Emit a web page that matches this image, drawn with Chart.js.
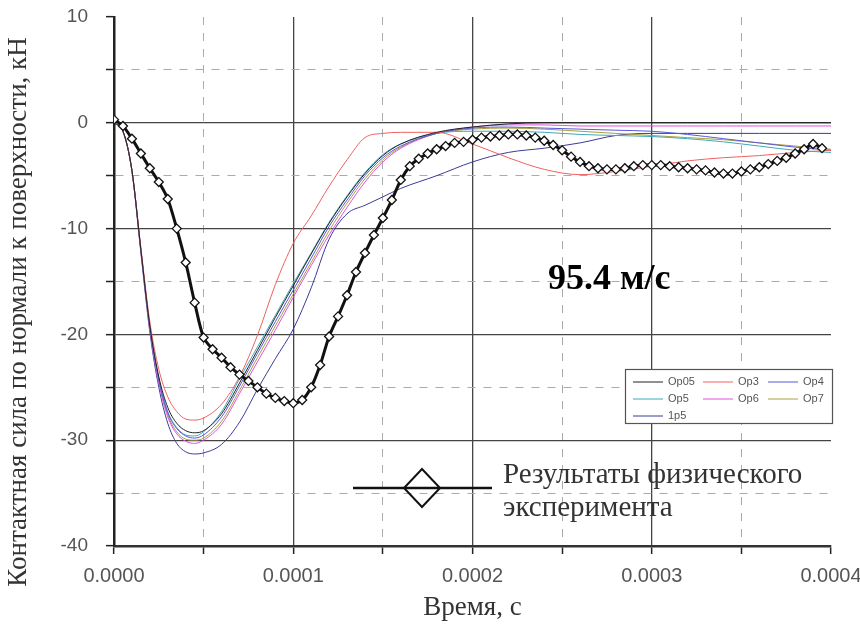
<!DOCTYPE html>
<html>
<head>
<meta charset="utf-8">
<script src="https://cdn.jsdelivr.net/npm/chart.js@4.4.0/dist/chart.umd.min.js"></script>
<style>
  html, body { margin: 0; padding: 0; background: #fff; }
  #wrap { width: 860px; height: 633px; }
</style>
</head>
<body>
<div id="wrap"><canvas id="chart"></canvas></div>
<script>
// time is kept in units of 1e-4 s, the tick callback turns it back into seconds
const simTime = [0, 0.05, 0.1, 0.15, 0.2, 0.25, 0.3, 0.35, 0.4, 0.45, 0.5, 0.6, 0.7, 0.8, 0.9, 1.0, 1.1, 1.2, 1.3, 1.4, 1.5, 1.6, 1.8, 2.0, 2.2, 2.4, 2.6, 2.8, 3.0, 3.2, 3.4, 3.6, 3.8, 4.0];

const op05 = [0, -0.8, -4.5, -12.0, -19.2, -24.0, -26.9, -28.4, -29.1, -29.3, -29.1, -27.5, -24.6, -21.5, -18.4, -15.4, -12.4, -9.5, -7.0, -4.8, -3.1, -2.0, -0.9, -0.4, -0.1, 0, 0, 0, 0, 0, 0, 0, 0, 0];
const op3 = [0, -0.8, -4.5, -11.8, -18.8, -23.3, -25.9, -27.3, -28.0, -28.1, -27.9, -26.6, -24.0, -20.1, -15.3, -11.4, -8.8, -6.0, -3.5, -1.4, -1.0, -0.9, -0.9, -2.0, -3.3, -4.4, -4.9, -4.6, -4.1, -3.6, -3.3, -3.1, -2.8, -2.6];
const op4 = [0, -0.8, -4.5, -12.0, -19.3, -24.3, -27.4, -28.9, -29.6, -29.8, -29.5, -27.8, -24.9, -21.8, -18.8, -15.8, -12.8, -9.8, -7.3, -5.0, -3.3, -2.2, -1.0, -0.5, -0.4, -0.5, -0.6, -0.7, -0.8, -1.1, -1.5, -1.9, -2.3, -2.6];
const op5 = [0, -0.8, -4.5, -12.0, -19.3, -24.2, -27.3, -28.8, -29.5, -29.6, -29.2, -27.3, -24.2, -21.2, -18.2, -15.2, -12.3, -9.4, -6.9, -4.7, -3.0, -2.0, -1.0, -0.8, -0.8, -0.9, -1.1, -1.2, -1.3, -1.5, -1.8, -2.2, -2.6, -2.8];
const op6 = [0, -0.8, -4.5, -12.1, -19.5, -24.6, -27.8, -29.4, -30.1, -30.3, -30.0, -28.5, -25.6, -22.6, -19.6, -16.5, -13.5, -10.6, -8.0, -5.6, -3.7, -2.4, -1.0, -0.4, -0.2, -0.2, -0.3, -0.3, -0.3, -0.3, -0.3, -0.3, -0.3, -0.3];
const op7 = [0, -0.8, -4.5, -12.1, -19.4, -24.4, -27.6, -29.2, -29.9, -30.0, -29.8, -28.2, -25.3, -22.2, -19.2, -16.2, -13.2, -10.2, -7.6, -5.3, -3.5, -2.3, -1.0, -0.6, -0.5, -0.6, -0.8, -1.0, -1.2, -1.4, -1.6, -1.9, -2.2, -2.5];
const one5 = [0, -0.8, -4.6, -12.3, -19.8, -25.0, -28.4, -30.3, -31.1, -31.3, -31.2, -30.4, -28.3, -25.2, -22.3, -19.5, -15.6, -11.0, -8.6, -7.8, -7.0, -6.2, -5.0, -3.7, -2.8, -2.4, -1.9, -1.2, -1.0, -1.0, -1.0, -1.0, -1.0, -1.0];

const expTime = [
  0.00, 0.05, 0.10, 0.15, 0.20, 0.25, 0.30, 0.35, 0.40, 0.45,
  0.50, 0.55, 0.60, 0.65, 0.70, 0.75, 0.80, 0.85, 0.90, 0.95,
  1.00, 1.05, 1.10, 1.15, 1.20, 1.25, 1.30, 1.35, 1.40, 1.45,
  1.50, 1.55, 1.60, 1.65, 1.70, 1.75, 1.80, 1.85, 1.90, 1.95,
  2.00, 2.05, 2.10, 2.15, 2.20, 2.25, 2.30, 2.35, 2.40, 2.45,
  2.50, 2.55, 2.60, 2.65, 2.70, 2.75, 2.80, 2.85, 2.90, 2.95,
  3.00, 3.05, 3.10, 3.15, 3.20, 3.25, 3.30, 3.35, 3.40, 3.45,
  3.50, 3.55, 3.60, 3.65, 3.70, 3.75, 3.80, 3.85, 3.90, 3.95
];
const expForce = [
  0.3, -0.3, -1.5, -2.9, -4.3, -5.6, -7.2, -10.0, -13.2, -17.0,
  -20.3, -21.4, -22.2, -23.1, -23.8, -24.4, -25.0, -25.6, -26.0, -26.3,
  -26.5, -26.2, -25.0, -22.9, -20.2, -18.3, -16.3, -14.1, -12.3, -10.6,
  -9.0, -7.3, -5.4, -4.1, -3.4, -2.9, -2.5, -2.2, -1.9, -1.8,
  -1.6, -1.4, -1.3, -1.2, -1.1, -1.1, -1.2, -1.4, -1.7, -2.1,
  -2.6, -3.2, -3.7, -4.1, -4.3, -4.4, -4.4, -4.3, -4.1, -4.0,
  -4.0, -4.0, -4.1, -4.2, -4.3, -4.4, -4.5, -4.7, -4.8, -4.8,
  -4.6, -4.4, -4.2, -3.9, -3.6, -3.3, -2.9, -2.5, -2.0, -2.4
];

const simLabels = ['Op05', 'Op3', 'Op4', 'Op5', 'Op6', 'Op7', '1p5'];
const simSeries = [op05, op3, op4, op5, op6, op7, one5];
const simColors = ['#222222', '#f06060', '#5858d8', '#40a8b8', '#e050e0', '#a8a040', '#3a3a9a'];
const expLabel = 'Результаты физического эксперимента';
const yTitle = 'Контактная сила по нормали к поверхности, кН';

const pts = (xs, ys) => xs.map((x, i) => ({ x: x, y: ys[i] }));

const datasets = [{
    label: expLabel,
    data: pts(expTime, expForce),
    borderColor: '#111',
    borderWidth: 3,
    pointStyle: 'rectRot',
    pointRadius: 4.5,
    pointBorderWidth: 1.3,
    pointBorderColor: '#111',
    pointBackgroundColor: '#fff',
    tension: 0.3,
    order: 0
}];
simSeries.forEach((s, i) => {
    datasets.push({
        label: simLabels[i],
        data: pts(simTime, s),
        borderColor: simColors[i],
        borderWidth: 1,
        pointRadius: 0,
        cubicInterpolationMode: 'monotone',
        order: 1
    });
});

const isMajor = (v, step) => Math.abs(v / step - Math.round(v / step)) < 1e-6;

// drop the label overflow padding so layout.padding alone places the plot box
const noPad = s => { s.paddingTop = 0; s.paddingBottom = 0; s.paddingLeft = 0; s.paddingRight = 0; };

// legend box with the simulation runs, plus the experiment key, speed label and y title
const overlay = {
    id: 'overlay',
    afterDatasetsDraw(chart) {
        const ctx = chart.ctx;
        ctx.save();

        // small boxed legend
        const bx = 625, by = 369, bw = 207, bh = 54;
        ctx.fillStyle = '#fff';
        ctx.fillRect(bx, by, bw, bh);
        ctx.strokeStyle = '#555';
        ctx.lineWidth = 1.2;
        ctx.strokeRect(bx + 0.5, by + 0.5, bw, bh);
        ctx.font = '11px "Liberation Sans", Arial, sans-serif';
        ctx.textBaseline = 'middle';
        ctx.textAlign = 'left';
        const colX = [633, 703, 768];
        chart.data.datasets.forEach((d, i) => {
            if (d.label === expLabel) return;
            const k = i - 1;
            const cx = colX[k % 3], cy = by + 13 + Math.floor(k / 3) * 17;
            ctx.strokeStyle = d.borderColor;
            ctx.lineWidth = 1;
            ctx.beginPath();
            ctx.moveTo(cx, cy);
            ctx.lineTo(cx + 30, cy);
            ctx.stroke();
            ctx.fillStyle = '#555';
            ctx.fillText(d.label, cx + 35, cy);
        });

        // experiment key
        const ly = 488;
        ctx.strokeStyle = '#111';
        ctx.lineWidth = 2.5;
        ctx.beginPath();
        ctx.moveTo(353, ly);
        ctx.lineTo(492, ly);
        ctx.stroke();
        ctx.lineWidth = 2;
        ctx.beginPath();
        ctx.moveTo(422, ly - 19);
        ctx.lineTo(440, ly);
        ctx.lineTo(422, ly + 19);
        ctx.lineTo(404, ly);
        ctx.closePath();
        ctx.stroke();
        ctx.fillStyle = '#333';
        ctx.font = '29px "Liberation Serif", "Times New Roman", serif';
        ctx.textBaseline = 'alphabetic';
        ctx.fillText('Результаты физического', 503, 483);
        ctx.fillText('эксперимента', 503, 516);

        // speed label
        ctx.fillStyle = '#000';
        ctx.font = 'bold 36px "Liberation Serif", "Times New Roman", serif';
        ctx.fillText('95.4 м/с', 548, 289);

        // y axis title, sits lower than the plot centre in the original
        ctx.translate(19, 312);
        ctx.rotate(-Math.PI / 2);
        ctx.fillStyle = '#333';
        ctx.font = '27px "Liberation Serif", "Times New Roman", serif';
        ctx.textAlign = 'center';
        ctx.textBaseline = 'middle';
        ctx.fillText(yTitle, 0, 0);
        ctx.restore();
    }
};

new Chart(document.getElementById('chart'), {
    type: 'line',
    data: { datasets: datasets },
    plugins: [overlay],
    options: {
        responsive: true,
        maintainAspectRatio: false,
        animation: false,
        layout: { padding: { top: 17, right: 29, left: 0, bottom: 0 } },
        plugins: {
            legend: { display: false },
            tooltip: { enabled: false }
        },
        scales: {
            x: {
                type: 'linear',
                min: 0,
                max: 4,
                afterFit: s => { s.height = 87; noPad(s); },
                ticks: {
                    stepSize: 0.5,
                    autoSkip: false,
                    maxRotation: 0,
                    padding: 10,
                    color: '#555',
                    font: { family: '"Liberation Sans", Arial, sans-serif', size: 20 },
                    callback: v => isMajor(v, 1) ? (v / 10000).toFixed(4) : ''
                },
                grid: {
                    color: c => {
                        const v = c.tick ? c.tick.value : 0;
                        if (v <= 0 || v >= 4) return 'rgba(0,0,0,0)';
                        return isMajor(v, 1) ? '#444' : '#aaa';
                    },
                    lineWidth: c => (c.tick && isMajor(c.tick.value, 1)) ? 1.3 : 1,
                    tickColor: '#222',
                    tickLength: 8,
                    tickWidth: 1.5
                },
                border: {
                    color: '#333',
                    width: 2.5,
                    dash: c => (c.tick && !isMajor(c.tick.value, 1)) ? [8, 8] : []
                },
                title: {
                    display: true,
                    text: 'Время, с',
                    color: '#333',
                    font: { family: '"Liberation Serif", "Times New Roman", serif', size: 27 },
                    padding: { top: 0, bottom: 9 }
                }
            },
            y: {
                min: -40,
                max: 10,
                afterFit: s => { s.width = 114; noPad(s); },
                ticks: {
                    stepSize: 5,
                    autoSkip: false,
                    padding: 18,
                    color: '#555',
                    font: { family: '"Liberation Sans", Arial, sans-serif', size: 19 },
                    callback: v => isMajor(v, 10) ? String(v) : ''
                },
                grid: {
                    color: c => {
                        const v = c.tick ? c.tick.value : 0;
                        if (v >= 10 || v <= -40) return 'rgba(0,0,0,0)';
                        return isMajor(v, 10) ? '#444' : '#aaa';
                    },
                    lineWidth: c => (c.tick && isMajor(c.tick.value, 10)) ? 1.3 : 1,
                    tickColor: '#222',
                    tickLength: 8,
                    tickWidth: 1.5
                },
                border: {
                    color: '#222',
                    width: 2.5,
                    dash: c => (c.tick && !isMajor(c.tick.value, 10)) ? [8, 8] : []
                },
                title: { display: false }
            }
        }
    }
});
</script>
</body>
</html>
